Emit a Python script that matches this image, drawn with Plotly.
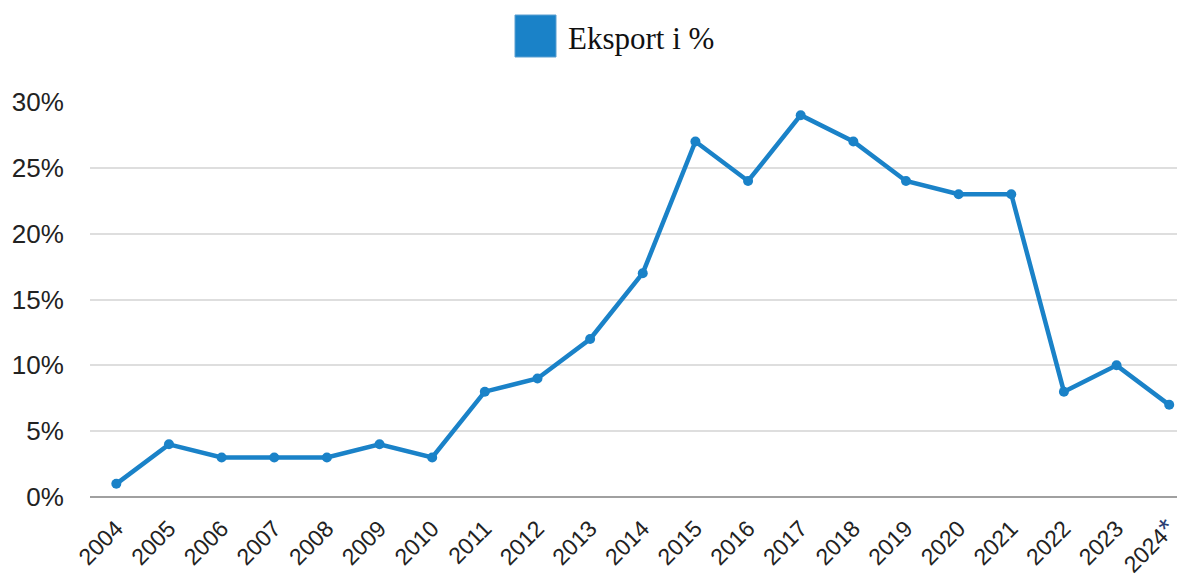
import plotly.graph_objects as go

years = ["2004", "2005", "2006", "2007", "2008", "2009", "2010", "2011", "2012", "2013",
         "2014", "2015", "2016", "2017", "2018", "2019", "2020", "2021", "2022", "2023", "2024"]
eksport = [1, 4, 3, 3, 3, 4, 3, 8, 9, 12, 17, 27, 24, 29, 27, 24, 23, 23, 8, 10, 7]
tick_labels = years[:-1] + ["2024<span style='color:#2b3f73;font-size:28px'>*</span>"]
y_ticks = [0, 5, 10, 15, 20, 25, 30]
y_tick_labels = [f"{v}%" for v in y_ticks]

line_color = "#1a82c8"

# page body has an 8px margin, so the figure is 8px smaller and offsets are shifted
L, T, B = 82, 94, 80
W, H = 1177, 569
PW, PH = W - L, H - T - B


def px_x(x):
    return (x - 8 - L) / PW


def px_y(y):
    return (H - B - (y - 8)) / PH


fig = go.Figure()
fig.add_trace(go.Scatter(
    x=list(range(len(years))), y=eksport, mode="lines+markers",
    line=dict(color=line_color, width=4.5),
    marker=dict(color=line_color, size=10),
    showlegend=False, name="Eksport i %",
))

# legend (drawn manually to get a large square swatch)
fig.add_shape(type="rect", xref="paper", yref="paper",
              x0=px_x(515), x1=px_x(556), y0=px_y(15), y1=px_y(57),
              fillcolor=line_color, line=dict(color="#5a9fd0", width=1))
fig.add_annotation(xref="paper", yref="paper",
                   x=px_x(566), y=px_y(38),
                   text="Eksport i %", showarrow=False, xanchor="left", yanchor="middle",
                   font=dict(family="Liberation Serif, DejaVu Serif, serif", size=31, color="#111"))

fig.update_layout(
    width=W, height=H,
    margin=dict(l=L, r=0, t=T, b=B, autoexpand=False),
    paper_bgcolor="white", plot_bgcolor="white",
    font=dict(family="Liberation Sans, Arial, sans-serif", color="#222"),
)
fig.update_xaxes(
    range=[-0.5, 20.3], automargin=False,
    tickmode="array", tickvals=list(range(len(years))), ticktext=tick_labels,
    tickangle=-45, tickfont=dict(size=23, color="#222"),
    showgrid=False, showline=False, zeroline=False,
    ticks="outside", ticklen=8, tickcolor="rgba(0,0,0,0)",
)
fig.update_yaxes(
    range=[0, 30], automargin=False,
    tickmode="array", tickvals=y_ticks, ticktext=y_tick_labels,
    tickfont=dict(size=26, color="#222"),
    showgrid=True, gridcolor="#dedede", gridwidth=2,
    zeroline=True, zerolinecolor="#a0a0a0", zerolinewidth=2,
    ticks="outside", ticklen=20, tickcolor="rgba(0,0,0,0)",
    showline=False,
)

fig.write_html("out.html")
